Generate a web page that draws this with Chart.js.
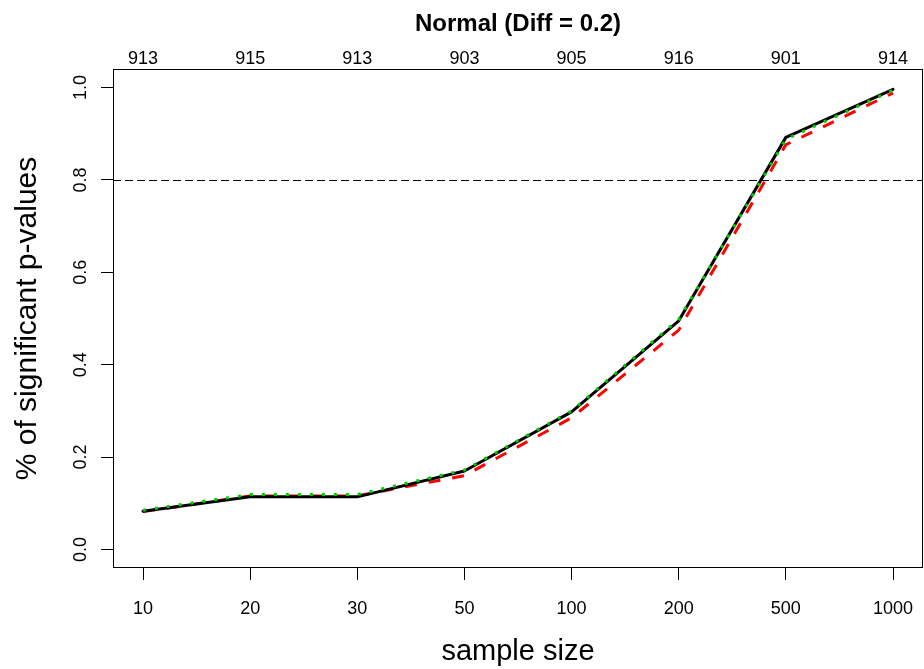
<!DOCTYPE html>
<html>
<head>
<meta charset="utf-8">
<title>Normal (Diff = 0.2)</title>
<script src="https://cdn.jsdelivr.net/npm/chart.js@4.4.1/dist/chart.umd.min.js"></script>
<style>
  html, body { margin: 0; padding: 0; background: #ffffff; }
  #wrap { width: 924px; height: 669px; position: relative; }
</style>
</head>
<body>
<div id="wrap"><canvas id="chart"></canvas></div>
<script>
// Sample sizes along the bottom axis and number of usable runs along the top
const sampleSizes = ['10', '20', '30', '50', '100', '200', '500', '1000'];
const validRuns = ['913', '915', '913', '903', '905', '916', '901', '914'];

// Share of significant p-values per sample size, one array per test
const solidSeries  = [0.083, 0.114, 0.114, 0.170, 0.298, 0.495, 0.892, 0.996];
const dashedSeries = [0.082, 0.116, 0.116, 0.160, 0.285, 0.475, 0.876, 0.988];
const dottedSeries = [0.085, 0.119, 0.119, 0.172, 0.300, 0.498, 0.888, 0.994];

// Value axis ticks and the reference power level
const yTickValues = [0, 0.2, 0.4, 0.6, 0.8, 1.0];
const powerTarget = 0.8;

const FONT = "'Liberation Sans', Arial, Helvetica, sans-serif";
Chart.defaults.font.family = FONT;

const toPoints = arr => arr.map((v, i) => ({ x: i + 1, y: v }));
const xMin = 1 - 0.04 * (sampleSizes.length - 1);
const xMax = sampleSizes.length + 0.04 * (sampleSizes.length - 1);

// Fix an axis box to a given size and drop the label overhang padding
const fixSize = (w, h) => s => {
  if (w !== null) s.width = w;
  if (h !== null) s.height = h;
  s.paddingLeft = 0; s.paddingRight = 0; s.paddingTop = 0; s.paddingBottom = 0;
};

// Horizontal reference line and the box around the plotting region
const framePlugin = {
  id: 'frame',
  beforeDatasetsDraw(chart) {
    const { ctx, chartArea: a, scales } = chart;
    const yy = Math.round(scales.y.getPixelForValue(powerTarget)) + 0.5;
    ctx.save();
    ctx.strokeStyle = '#000';
    ctx.lineWidth = 1;
    ctx.setLineDash([8, 4]);
    ctx.beginPath();
    ctx.moveTo(a.left, yy);
    ctx.lineTo(a.right, yy);
    ctx.stroke();
    ctx.restore();
  },
  afterDraw(chart) {
    const { ctx, chartArea: a } = chart;
    ctx.save();
    ctx.strokeStyle = '#000';
    ctx.lineWidth = 1;
    const l = Math.floor(a.left) + 0.5, t = Math.floor(a.top) + 0.5;
    const r = Math.floor(a.right) - 0.5, b = Math.floor(a.bottom) - 0.5;
    ctx.strokeRect(l, t, r - l, b - t);
    ctx.restore();
  }
};

new Chart(document.getElementById('chart'), {
  type: 'line',
  data: {
    datasets: [
      {
        label: 'solid',
        data: toPoints(solidSeries),
        borderColor: '#000000',
        borderWidth: 3,
        pointRadius: 0,
        tension: 0,
        borderJoinStyle: 'round',
        borderCapStyle: 'round',
        order: 2
      },
      {
        label: 'dashed',
        data: toPoints(dashedSeries),
        borderColor: '#ff0000',
        borderWidth: 3,
        borderDash: [12, 12],
        pointRadius: 0,
        tension: 0,
        order: 3
      },
      {
        label: 'dotted',
        data: toPoints(dottedSeries),
        borderColor: '#00cd00',
        borderWidth: 3,
        borderDash: [3, 9],
        pointRadius: 0,
        tension: 0,
        order: 1
      }
    ]
  },
  options: {
    responsive: true,
    maintainAspectRatio: false,
    animation: false,
    layout: { padding: { left: 0, right: 1, top: 0, bottom: 0 } },
    plugins: {
      legend: { display: false },
      tooltip: { enabled: false },
      title: {
        display: true,
        fullSize: false,
        text: 'Normal (Diff = 0.2)',
        color: '#000',
        font: { family: FONT, size: 24, weight: 'bold', lineHeight: 1 },
        padding: { top: 12, bottom: 0 }
      }
    },
    scales: {
      x: {
        type: 'linear',
        position: 'bottom',
        min: xMin,
        max: xMax,
        afterBuildTicks: s => { s.ticks = sampleSizes.map((_, i) => ({ value: i + 1 })); },
        afterFit: fixSize(null, 101),
        ticks: {
          autoSkip: false,
          maxRotation: 0,
          padding: 20,
          color: '#000',
          font: { family: FONT, size: 18, lineHeight: 1 },
          callback: v => sampleSizes[Math.round(v) - 1]
        },
        grid: { drawOnChartArea: false, drawTicks: true, tickLength: 12, color: '#000', lineWidth: 1 },
        border: { display: false },
        title: {
          display: true,
          text: 'sample size',
          color: '#000',
          font: { family: FONT, size: 29, lineHeight: 1 },
          padding: { top: 0, bottom: 3 }
        }
      },
      x2: {
        type: 'linear',
        position: 'top',
        min: xMin,
        max: xMax,
        afterBuildTicks: s => { s.ticks = validRuns.map((_, i) => ({ value: i + 1 })); },
        afterFit: fixSize(null, 33),
        ticks: {
          autoSkip: false,
          maxRotation: 0,
          padding: 1,
          color: '#000',
          font: { family: FONT, size: 18, lineHeight: 1 },
          callback: v => validRuns[Math.round(v) - 1]
        },
        grid: { display: false, drawTicks: false, drawOnChartArea: false },
        border: { display: false }
      },
      y: {
        type: 'linear',
        position: 'left',
        min: -0.04,
        max: 1.04,
        afterBuildTicks: s => { s.ticks = yTickValues.map(v => ({ value: v })); },
        afterFit: fixSize(113, null),
        ticks: {
          minRotation: 90,
          maxRotation: 90,
          crossAlign: 'center',
          padding: 7,
          color: '#000',
          font: { family: FONT, size: 18, lineHeight: 1 },
          callback: v => v.toFixed(1)
        },
        grid: { drawOnChartArea: false, drawTicks: true, tickLength: 12, color: '#000', lineWidth: 1 },
        border: { display: false },
        title: {
          display: true,
          text: '% of significant p-values',
          color: '#000',
          font: { family: FONT, size: 30, lineHeight: 1 },
          padding: { top: 13, bottom: 0 }
        }
      }
    }
  },
  plugins: [framePlugin]
});
</script>
</body>
</html>
